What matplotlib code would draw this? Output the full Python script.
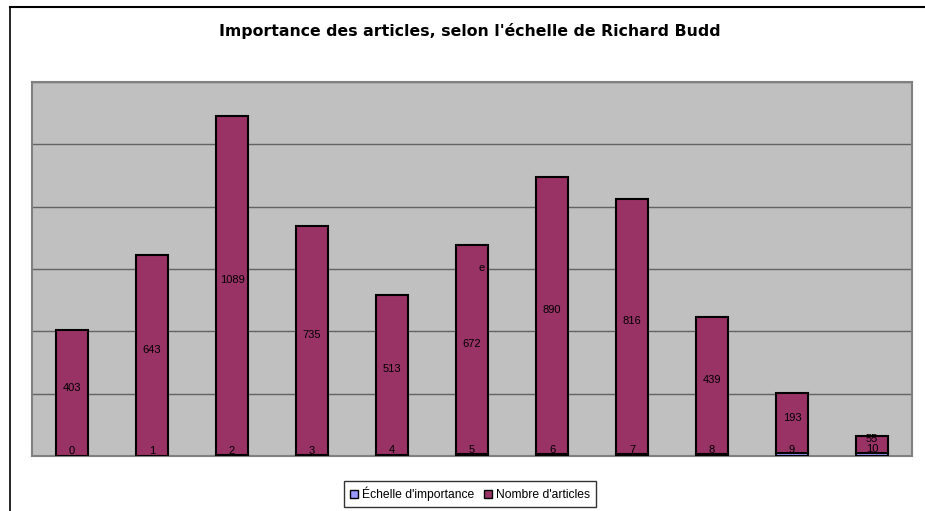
import matplotlib.pyplot as plt
from matplotlib.lines import Line2D
from matplotlib.patches import Patch
from matplotlib.transforms import offset_copy

# data
echelle = [0, 1, 2, 3, 4, 5, 6, 7, 8, 9, 10]
articles = [403, 643, 1089, 735, 513, 672, 890, 816, 439, 193, 55]

C_ECH = "#9999FF"
C_ART = "#993366"
W, H = 925, 511

plt.rcParams["font.family"] = ["Liberation Sans", "DejaVu Sans"]

fig = plt.figure(figsize=(W / 100, H / 100), dpi=100)
ax = fig.add_axes([32 / W, 1 - 456 / H, (912 - 32) / W, (456 - 82) / H])

x = list(range(len(echelle)))
ax.bar(x, echelle, width=0.4, color=C_ECH, edgecolor="black", linewidth=1.5, zorder=3)
ax.bar(x, articles, width=0.4, bottom=echelle, color=C_ART,
       edgecolor="black", linewidth=1.5, zorder=3)

up = offset_copy(ax.transData, fig=fig, x=0, y=4, units="points")
for xi, e, a in zip(x, echelle, articles):
    ax.text(xi, e / 2, str(e), ha="center", va="bottom", fontsize=8, zorder=4)
    ax.text(xi, e + a / 2, str(a), ha="center", va="center", fontsize=8,
            zorder=4, transform=up)
# stray glyph visible in the original
ax.text(5.12, 603, "e", ha="center", va="center", fontsize=8, zorder=4)

ax.set_xlim(-0.5, len(x) - 0.5)
ax.set_ylim(0, 1200)
ax.set_yticks(range(0, 1201, 200))
ax.set_facecolor("#C0C0C0")
ax.grid(axis="y", color="#646464", linewidth=1.0, zorder=0)
ax.tick_params(left=False, bottom=False, labelleft=False, labelbottom=False)
for s in ax.spines.values():
    s.set_color("#808080")
    s.set_linewidth(1.5)

fig.suptitle("Importance des articles, selon l'échelle de Richard Budd",
             x=470 / W, y=1 - 31 / H, va="center", fontsize=11.3,
             fontweight="bold", family="DejaVu Sans")

handles = [Patch(facecolor=C_ECH, edgecolor="black", label="Échelle d'importance"),
           Patch(facecolor=C_ART, edgecolor="black", label="Nombre d'articles")]
fig.legend(handles=handles, loc="center", bbox_to_anchor=(470 / W, 1 - 494 / H),
           ncol=2, fontsize=8.7, frameon=True, fancybox=False, edgecolor="black",
           handlelength=0.7, handleheight=0.7, handletextpad=0.3, columnspacing=0.8,
           borderpad=0.5, borderaxespad=0)

# outer chart frame (left and top only visible)
fig.add_artist(Line2D([10 / W, 10 / W], [0, 1 - 7 / H], color="black", lw=1.2,
                      transform=fig.transFigure))
fig.add_artist(Line2D([10 / W, 1], [1 - 7 / H, 1 - 7 / H], color="black", lw=1.5,
                      transform=fig.transFigure))

fig.savefig("out.png", dpi=100)
